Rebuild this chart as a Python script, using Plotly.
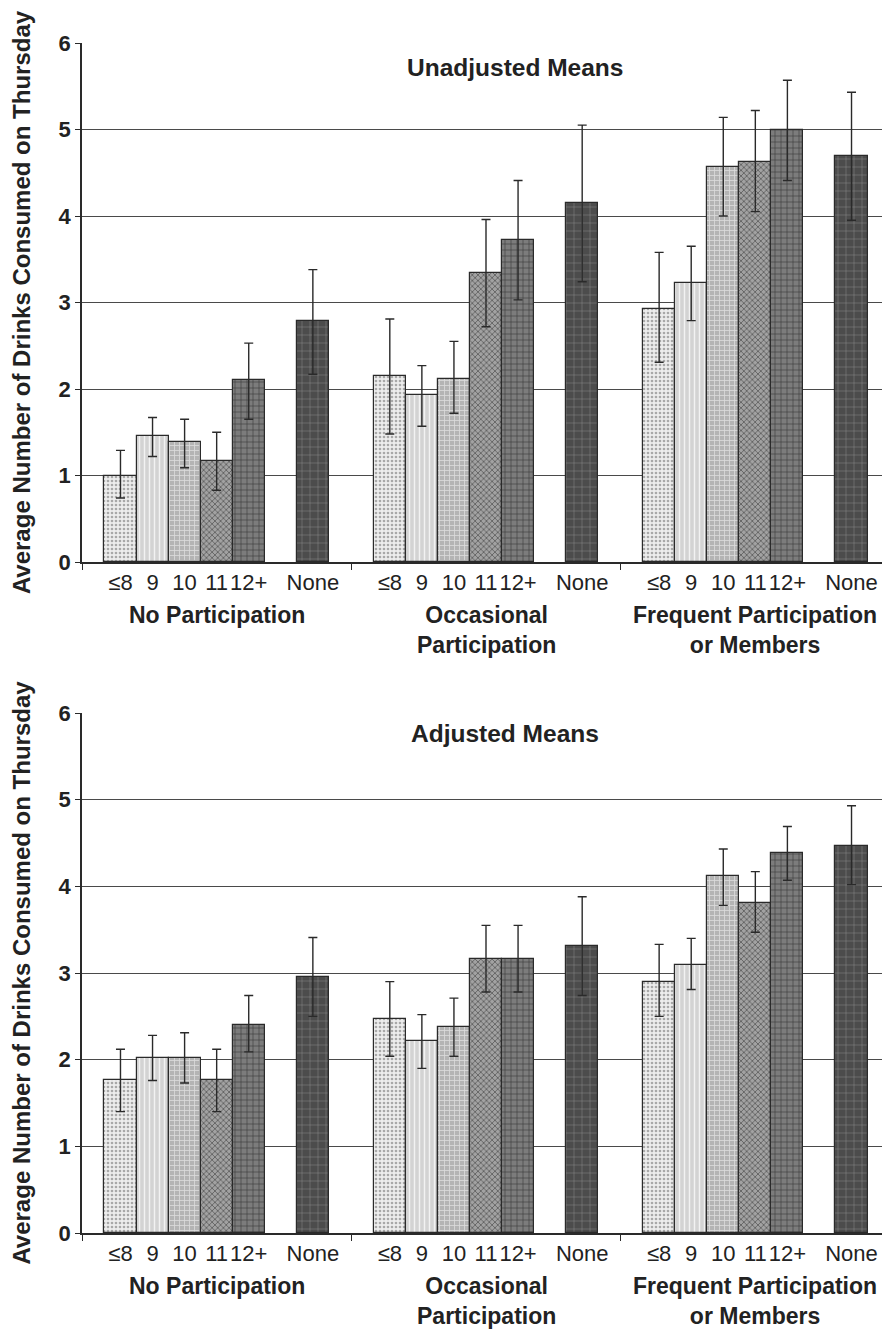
import plotly.graph_objects as go

# ---------------- data ----------------
categories = ["≤8", "9", "10", "11", "12+", "None"]
groups = ["No Participation", "Occasional<br>Participation", "Frequent Participation<br>or Members"]

# Unadjusted means (rows: category, cols: group)
unadj_means = [
    [1.00, 2.15, 2.93],
    [1.46, 1.93, 3.22],
    [1.39, 2.12, 4.57],
    [1.17, 3.34, 4.62],
    [2.10, 3.72, 5.00],
    [2.79, 4.15, 4.69],
]
unadj_upper = [
    [1.29, 2.81, 3.58],
    [1.67, 2.27, 3.65],
    [1.65, 2.55, 5.14],
    [1.50, 3.96, 5.22],
    [2.53, 4.41, 5.57],
    [3.38, 5.05, 5.43],
]
unadj_lower = [
    [0.74, 1.48, 2.31],
    [1.22, 1.57, 2.79],
    [1.09, 1.72, 4.00],
    [0.83, 2.72, 4.05],
    [1.65, 3.03, 4.41],
    [2.17, 3.24, 3.95],
]

# Adjusted means
adj_means = [
    [1.76, 2.47, 2.90],
    [2.02, 2.22, 3.09],
    [2.02, 2.38, 4.12],
    [1.76, 3.16, 3.81],
    [2.40, 3.16, 4.38],
    [2.95, 3.31, 4.47],
]
adj_upper = [
    [2.12, 2.90, 3.33],
    [2.28, 2.52, 3.40],
    [2.31, 2.71, 4.43],
    [2.12, 3.55, 4.17],
    [2.74, 3.55, 4.69],
    [3.41, 3.88, 4.93],
]
adj_lower = [
    [1.40, 2.04, 2.50],
    [1.76, 1.90, 2.81],
    [1.73, 2.04, 3.78],
    [1.40, 2.78, 3.47],
    [2.09, 2.78, 4.07],
    [2.50, 2.74, 4.02],
]

y_ticks = [0, 1, 2, 3, 4, 5, 6]
panel_titles = ["Unadjusted Means", "Adjusted Means"]
y_title = "Average Number of Drinks Consumed on Thursday"

# ---------------- styling ----------------
FONT = "Liberation Sans, Arial, Helvetica, sans-serif"
styles = [
    dict(shape=".", bg="#ededed", fg="#a8a8a8", size=4, sol=0.35),
    dict(shape="|", bg="#d3d3d3", fg="#f2f2f2", size=5, sol=0.3),
    dict(shape="+", bg="#b4b4b4", fg="#dcdcdc", size=5, sol=0.3),
    dict(shape="x", bg="#a2a2a2", fg="#4a4a4a", size=4, sol=0.3),
    dict(shape="+", bg="#7c7c7c", fg="#3a3a3a", size=6, sol=0.2),
    dict(shape="+", bg="#4c4c4c", fg="#8a8a8a", size=8, sol=0.12),
]
slots = [0, 1, 2, 3, 4, 6]      # slot 5 is the gap before "None"
GROUP_W = 8.4
MARGIN = 0.7

def xpos(g, s):
    return g * GROUP_W + MARGIN + s + 0.5

fig = go.Figure()

panels = [
    (unadj_means, unadj_upper, unadj_lower, "x", "y"),
    (adj_means, adj_upper, adj_lower, "x2", "y2"),
]

for p, (means, upper, lower, xa, ya) in enumerate(panels):
    for c, cat in enumerate(categories):
        st = styles[c]
        xs = [xpos(g, slots[c]) for g in range(len(groups))]
        fig.add_trace(go.Bar(
            x=xs, y=means[c], width=1.0, name=cat, showlegend=False,
            xaxis=xa, yaxis=ya,
            marker=dict(
                color=st["bg"],
                line=dict(color="#2a2a2a", width=1.2),
                pattern=dict(shape=st["shape"], fgcolor=st["fg"], bgcolor=st["bg"],
                             size=st["size"], solidity=st["sol"], fillmode="replace"),
            ),
            error_y=dict(
                type="data", symmetric=False,
                array=[u - m for u, m in zip(upper[c], means[c])],
                arrayminus=[m - l for m, l in zip(means[c], lower[c])],
                color="#2a2a2a", thickness=1.4, width=4.5,
            ),
        ))

tickvals = [xpos(g, s) for g in range(len(groups)) for s in slots]
ticktext = [cat for g in range(len(groups)) for cat in categories]
sep_vals = [g * GROUP_W for g in range(len(groups) + 1)]
XMAX = GROUP_W * len(groups)

def xaxis_def(anchor):
    return dict(
        range=[0, XMAX], domain=[0, 1], anchor=anchor, automargin=False,
        tickmode="array", tickvals=tickvals, ticktext=ticktext, tickangle=0,
        ticks="", tickfont=dict(family=FONT, size=22, color="#222"),
        showline=True, linecolor="#2a2a2a", linewidth=1.6,
        showgrid=False, zeroline=False,
        minor=dict(tickmode="array", tickvals=sep_vals, ticks="outside",
                   ticklen=6, tickwidth=1.4, tickcolor="#2a2a2a", showgrid=False),
    )

def yaxis_def(anchor, dom):
    return dict(
        range=[0, 6], domain=dom, anchor=anchor, automargin=False,
        tickmode="array", tickvals=y_ticks,
        ticks="outside", ticklen=5, tickwidth=1.4, tickcolor="#2a2a2a",
        tickfont=dict(family=FONT, size=22, color="#222", weight="bold"),
        showline=True, linecolor="#2a2a2a", linewidth=1.6,
        showgrid=True, gridcolor="#4a4a4a", gridwidth=1.2, zeroline=False,
        title=dict(text="<b>" + y_title + "</b>",
                   font=dict(family=FONT, size=24, color="#222"), standoff=21),
    )

# the page body adds an 8px offset; the figure is sized to fill the window
OFF = 8
W, H = 890 - OFF, 1334 - OFF
top_dom = [(H - (562 - OFF)) / H, (H - (43 - OFF)) / H]
bot_dom = [(H - (1233 - OFF)) / H, (H - (713 - OFF)) / H]

annotations = []
for p, (xref, yref, tx, ty) in enumerate([
    ("x", "y domain", 13.5, 0.952),
    ("x2", "y2 domain", 13.2, 0.961),
]):
    annotations.append(dict(
        text="<b>" + panel_titles[p] + "</b>", x=tx, y=ty, xref=xref, yref=yref,
        showarrow=False, xanchor="center", yanchor="middle",
        font=dict(family=FONT, size=24.5, color="#222"),
    ))
    for g, gname in enumerate(groups):
        annotations.append(dict(
            text="<b>" + gname + "</b>", x=g * GROUP_W + GROUP_W / 2, y=-0.074,
            xref=xref, yref=yref, showarrow=False, xanchor="center", yanchor="top",
            font=dict(family=FONT, size=23, color="#222"),
        ))

fig.update_layout(
    width=W, height=H,
    margin=dict(l=82 - OFF, r=0, t=0, b=0, autoexpand=False),
    paper_bgcolor="white", plot_bgcolor="white",
    barmode="overlay", bargap=0,
    xaxis=xaxis_def("y"), yaxis=yaxis_def("x", top_dom),
    xaxis2=xaxis_def("y2"), yaxis2=yaxis_def("x2", bot_dom),
    annotations=annotations,
    font=dict(family=FONT, color="#222"),
)

fig.write_html("out.html")
